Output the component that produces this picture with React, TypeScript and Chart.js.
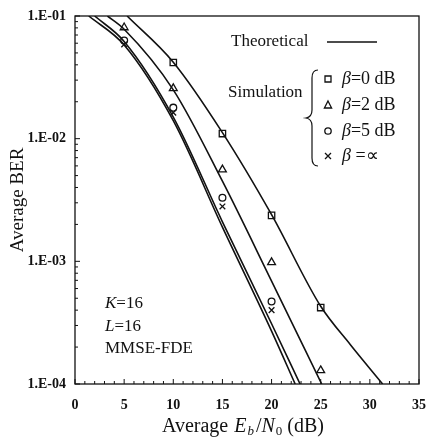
import React, { useEffect, useRef } from "react";
import { Chart, registerables } from "chart.js";
Chart.register(...registerables);

// ---- data ----
const xTickValues = [0, 5, 10, 15, 20, 25, 30, 35];
const yTickValues = [1e-4, 1e-3, 1e-2, 1e-1];
const yTickLabels = ["1.E-04", "1.E-03", "1.E-02", "1.E-01"];

// theoretical curves (Eb/N0 dB, BER)
const theoB0X = [5.3, 10, 15, 20, 25, 28, 31.3];
const theoB0Y = [0.1, 0.042, 0.0112, 0.0024, 0.00043, 0.00021, 0.0001];
const theoB2X = [3.3, 5, 10, 15, 20, 25.1];
const theoB2Y = [0.1, 0.078, 0.025, 0.0045, 0.00069, 0.0001];
const theoB5X = [2.0, 5, 10, 15, 20, 22.9];
const theoB5Y = [0.1, 0.062, 0.015, 0.0021, 0.00031, 0.0001];
const theoBInfX = [1.4, 5, 10, 15, 20, 22.4];
const theoBInfY = [0.1, 0.058, 0.014, 0.0019, 0.00027, 0.0001];

// simulation markers
const simB0X = [10, 15, 20, 25];
const simB0Y = [0.0418, 0.011, 0.00237, 0.00042];
const simB2X = [5, 10, 15, 20, 25];
const simB2Y = [0.0806, 0.0257, 0.0056, 0.00098, 0.000129];
const simB5X = [5, 10, 15, 20];
const simB5Y = [0.0632, 0.0179, 0.0033, 0.00047];
const simBInfX = [5, 10, 15, 20];
const simBInfY = [0.0586, 0.0163, 0.0028, 0.0004];

const legendTheory = "Theoretical";
const legendSim = "Simulation";
const betaLabels = ["=0 dB", "=2 dB", "=5 dB", " =∝"];
const annotK = "=16";
const annotL = "=16";
const annotM = "MMSE-FDE";

const SERIF = "'Liberation Serif', 'Times New Roman', serif";
const INK = "#111";

const zip = (xs: number[], ys: number[]) => xs.map((x, i) => ({ x, y: ys[i] }));

function drawMarker(ctx: CanvasRenderingContext2D, kind: string, x: number, y: number) {
  ctx.beginPath();
  if (kind === "rect") {
    ctx.rect(x - 3, y - 3, 6, 6);
  } else if (kind === "triangle") {
    ctx.moveTo(x, y - 4);
    ctx.lineTo(x + 3.6, y + 3);
    ctx.lineTo(x - 3.6, y + 3);
    ctx.closePath();
  } else if (kind === "circle") {
    ctx.arc(x, y, 3.2, 0, Math.PI * 2);
  } else {
    ctx.moveTo(x - 3, y - 3);
    ctx.lineTo(x + 3, y + 3);
    ctx.moveTo(x + 3, y - 3);
    ctx.lineTo(x - 3, y + 3);
  }
  ctx.stroke();
}

const decorPlugin = {
  id: "decor",
  afterDraw(chart: any) {
    const ctx: CanvasRenderingContext2D = chart.ctx;
    const { left, right, top, bottom } = chart.chartArea;
    const xs = chart.scales.x;
    const ys = chart.scales.y;
    ctx.save();
    ctx.strokeStyle = INK;
    ctx.fillStyle = INK;
    // frame
    ctx.lineWidth = 1.3;
    ctx.strokeRect(left, top, right - left, bottom - top);
    // y ticks (inside)
    ctx.lineWidth = 1;
    for (let e = -4; e <= -1; e++) {
      for (let k = 1; k <= 9; k++) {
        const v = k * Math.pow(10, e);
        if (v > 0.1000001) continue;
        const py = ys.getPixelForValue(v);
        const len = k === 1 ? 5 : 3;
        ctx.beginPath();
        ctx.moveTo(left, py);
        ctx.lineTo(left + len, py);
        ctx.stroke();
      }
    }
    // x ticks (inside)
    for (let v = 0; v <= 35; v++) {
      const px = xs.getPixelForValue(v);
      const len = v % 5 === 0 ? 5 : 3;
      ctx.beginPath();
      ctx.moveTo(px, bottom);
      ctx.lineTo(px, bottom - len);
      ctx.stroke();
    }

    // x axis title with italics and subscripts
    const segs: [string, string, number, number][] = [
      ["Average", `20px ${SERIF}`, 0, 6],
      ["E", `italic 20px ${SERIF}`, 0, 1],
      ["b", `italic 13px ${SERIF}`, 3, 2],
      ["/", `20px ${SERIF}`, 0, 0],
      ["N", `italic 20px ${SERIF}`, 0, 1],
      ["0", `13px ${SERIF}`, 3, 5],
      ["(dB)", `20px ${SERIF}`, 0, 0],
    ];
    let total = 0;
    for (const [t, f, , g] of segs) {
      ctx.font = f;
      total += ctx.measureText(t).width + g;
    }
    let cx = 243 - total / 2;
    ctx.textBaseline = "alphabetic";
    ctx.textAlign = "left";
    for (const [t, f, dy, g] of segs) {
      ctx.font = f;
      ctx.fillText(t, cx, 432 + dy);
      cx += ctx.measureText(t).width + g;
    }

    // legend
    ctx.textBaseline = "middle";
    ctx.font = `17px ${SERIF}`;
    ctx.fillText(legendTheory, 231, 42);
    ctx.lineWidth = 1.4;
    ctx.beginPath();
    ctx.moveTo(327, 42);
    ctx.lineTo(377, 42);
    ctx.stroke();
    ctx.fillText(legendSim, 228, 93);
    // brace
    ctx.lineWidth = 1.2;
    ctx.beginPath();
    ctx.moveTo(318, 70);
    ctx.quadraticCurveTo(312, 70, 312, 78);
    ctx.lineTo(312, 110);
    ctx.quadraticCurveTo(312, 117, 306, 118);
    ctx.quadraticCurveTo(312, 119, 312, 126);
    ctx.lineTo(312, 158);
    ctx.quadraticCurveTo(312, 166, 318, 166);
    ctx.stroke();
    const kinds = ["rect", "triangle", "circle", "cross"];
    const rowsY = [79, 105, 131, 156];
    ctx.lineWidth = 1.3;
    kinds.forEach((k, i) => {
      drawMarker(ctx, k, 328, rowsY[i]);
      ctx.font = `italic 18px ${SERIF}`;
      ctx.fillText("β", 342, rowsY[i]);
      const bw = ctx.measureText("β").width;
      ctx.font = `18px ${SERIF}`;
      ctx.fillText(betaLabels[i], 342 + bw, rowsY[i]);
    });

    // annotation
    const annot: [string, string, number][] = [
      ["K", annotK, 304],
      ["L", annotL, 327],
    ];
    for (const [a, b, y] of annot) {
      ctx.font = `italic 17px ${SERIF}`;
      ctx.fillText(a, 105, y);
      const w = ctx.measureText(a).width;
      ctx.font = `17px ${SERIF}`;
      ctx.fillText(b, 105 + w, y);
    }
    ctx.font = `17px ${SERIF}`;
    ctx.fillText(annotM, 105, 349);
    ctx.restore();
  },
};

export default function App() {
  const ref = useRef<HTMLCanvasElement | null>(null);
  useEffect(() => {
    if (!ref.current) return;
    const lineDs = (label: string, xs: number[], ys: number[]) => ({
      label,
      data: zip(xs, ys),
      borderColor: INK,
      borderWidth: 1.6,
      pointRadius: 0,
      cubicInterpolationMode: "monotone" as const,
      showLine: true,
      fill: false,
    });
    const simDs = (label: string, xs: number[], ys: number[], style: string, r: number) => ({
      label,
      data: zip(xs, ys),
      showLine: false,
      pointStyle: style,
      pointRadius: r,
      pointBorderColor: INK,
      pointBackgroundColor: "rgba(0,0,0,0)",
      pointBorderWidth: 1.3,
      borderColor: INK,
    });
    const chart = new Chart(ref.current, {
      type: "scatter",
      data: {
        datasets: [
          lineDs("Theory β=0 dB", theoB0X, theoB0Y),
          lineDs("Theory β=2 dB", theoB2X, theoB2Y),
          lineDs("Theory β=5 dB", theoB5X, theoB5Y),
          lineDs("Theory β=∞", theoBInfX, theoBInfY),
          simDs("Sim β=0 dB", simB0X, simB0Y, "rect", 4.5),
          simDs("Sim β=2 dB", simB2X, simB2Y, "triangle", 4.5),
          simDs("Sim β=5 dB", simB5X, simB5Y, "circle", 3.4),
          simDs("Sim β=∞", simBInfX, simBInfY, "crossRot", 4),
        ] as any,
      },
      options: {
        animation: false,
        responsive: false,
        devicePixelRatio: 1,
        layout: { padding: { top: 16, right: 11, left: 0, bottom: 0 } },
        plugins: { legend: { display: false }, tooltip: { enabled: false } },
        scales: {
          x: {
            type: "linear",
            min: 0,
            max: 35,
            grid: { display: false, drawTicks: false },
            border: { display: false },
            afterBuildTicks: (s: any) => {
              s.ticks = xTickValues.map((v) => ({ value: v }));
            },
            ticks: {
              padding: 13,
              color: INK,
              font: { family: SERIF, size: 14, weight: "bold" },
              callback: (v: any) => String(v),
            },
            afterFit: (s: any) => {
              s.height = 58;
              s.paddingLeft = 0;
              s.paddingRight = 0;
            },
          },
          y: {
            type: "logarithmic",
            min: 1e-4,
            max: 1e-1,
            grid: { display: false, drawTicks: false },
            border: { display: false },
            afterBuildTicks: (s: any) => {
              s.ticks = yTickValues.map((v) => ({ value: v }));
            },
            ticks: {
              padding: 9,
              color: INK,
              font: { family: SERIF, size: 14, weight: "bold" },
              callback: (v: any) => {
                const i = yTickValues.findIndex((t) => Math.abs(Math.log10(t) - Math.log10(v)) < 1e-6);
                return i >= 0 ? yTickLabels[i] : "";
              },
            },
            title: {
              display: true,
              text: "Average BER",
              color: INK,
              font: { family: SERIF, size: 19 },
              padding: { top: 7, bottom: 0 },
            },
            afterFit: (s: any) => {
              s.width = 75;
              s.paddingTop = 0;
              s.paddingBottom = 0;
            },
          },
        },
      } as any,
      plugins: [decorPlugin],
    });
    return () => chart.destroy();
  }, []);
  return (
    <div style={{ position: "absolute", left: 0, top: 0, width: 430, height: 442, background: "#fff" }}>
      <canvas ref={ref} width={430} height={442} />
    </div>
  );
}
